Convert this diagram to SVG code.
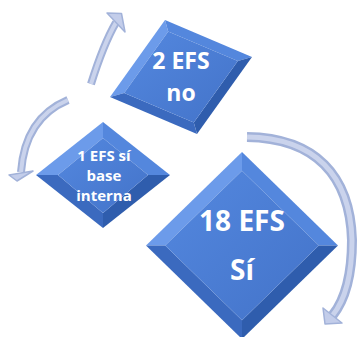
<svg xmlns="http://www.w3.org/2000/svg" width="357" height="337" viewBox="0 0 357 337">
  <defs>
    <linearGradient id="face" x1="0" y1="0" x2="1" y2="1">
      <stop offset="0" stop-color="#5488DF"/>
      <stop offset="1" stop-color="#4373C9"/>
    </linearGradient>
    <style>
      .tl { fill: #6C9BEA; }
      .tr { fill: #5487DD; }
      .br { fill: #2F5DAD; }
      .bl { fill: #3B6ABF; }
      .ctr { fill: url(#face); }
      .lbl { font-family: "Open Sans", "Liberation Sans", sans-serif; font-weight: bold; fill: #FFFFFF; text-anchor: middle; }
      .band-o { fill: none; stroke: #A2B2D9; stroke-linecap: butt; }
      .band-i { fill: none; stroke: #CAD3EC; stroke-linecap: butt; }
      .head { fill: #C3CDEA; stroke: #A2B2D9; stroke-width: 1.5; stroke-linejoin: round; }
    </style>
  </defs>
  <rect width="357" height="337" fill="#FFFFFF"/>

  <g id="connectors">
    <!-- top arrow: from 1 EFS towards 2 EFS -->
    <path class="band-o" stroke-width="8" d="M91,84 Q103.5,44 116,22.5"/>
    <path class="band-i" stroke-width="4" d="M91,84 Q103.5,44 116,22.5"/>
    <polygon class="head" points="107,13 121.5,13.5 125,32"/>
    <!-- left arrow -->
    <path class="band-o" stroke-width="8" d="M68,100 Q25,118 21,172"/>
    <path class="band-i" stroke-width="4" d="M68,100 Q25,118 21,172"/>
    <polygon class="head" points="9,175 33,171 17,181"/>
    <!-- right arrow -->
    <path class="band-o" stroke-width="10" d="M247,137 C315,138 350,175 352,240 C352,275 345,300 332.5,315.5"/>
    <path class="band-i" stroke-width="5" d="M247,137 C315,138 350,175 352,240 C352,275 345,300 332.5,315.5"/>
    <polygon class="head" points="323,308 342,323 325,324"/>
  </g>

  <g id="node-2efs">
    <polygon class="tl" points="110,97 165,20 168.2,31.4 124.2,93"/>
    <polygon class="tr" points="165,20 252,57 237.8,61 168.2,31.4"/>
    <polygon class="br" points="252,57 197,134 193.8,122.6 237.8,61"/>
    <polygon class="bl" points="197,134 110,97 124.2,93 193.8,122.6"/>
    <polygon class="ctr" points="168.2,31.4 237.8,61 193.8,122.6 124.2,93"/>
    <text class="lbl" x="181" y="69" font-size="23">2 EFS</text>
    <text class="lbl" x="181" y="101" font-size="23">no</text>
  </g>

  <g id="node-1efs">
    <polygon class="tl" points="36,175 103,122 103,138 58,175"/>
    <polygon class="tr" points="103,122 170,175 148,175 103,138"/>
    <polygon class="br" points="170,175 103,228 103,213 148,175"/>
    <polygon class="bl" points="103,228 36,175 58,175 103,213"/>
    <polygon class="ctr" points="103,138 148,175 103,213 58,175"/>
    <text class="lbl" x="104" y="161" font-size="15">1 EFS sí</text>
    <text class="lbl" x="104" y="181" font-size="15">base</text>
    <text class="lbl" x="104" y="201" font-size="15">interna</text>
  </g>

  <g id="node-18efs">
    <polygon class="tl" points="146,245.5 242,152 242,170.7 165.2,245.5"/>
    <polygon class="tr" points="242,152 338,245.5 318.8,245.5 242,170.7"/>
    <polygon class="br" points="338,245.5 242,339 242,320.3 318.8,245.5"/>
    <polygon class="bl" points="242,339 146,245.5 165.2,245.5 242,320.3"/>
    <polygon class="ctr" points="242,170.7 318.8,245.5 242,320.3 165.2,245.5"/>
    <text class="lbl" x="242" y="231" font-size="28">18 EFS</text>
    <text class="lbl" x="242" y="280" font-size="28">Sí</text>
  </g>
</svg>
